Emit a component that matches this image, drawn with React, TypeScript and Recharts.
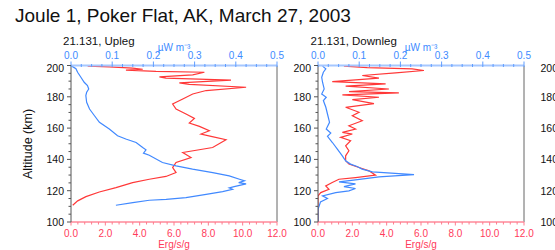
import React from "react";
import { LineChart, Line, XAxis, YAxis, ReferenceLine } from "recharts";

// altitude (km) vs. value
type Pt = { alt: number; v: number };

const title = "Joule 1, Poker Flat, AK, March 27, 2003";
const captions = ["21.131, Upleg", "21.131, Downleg"];
const altLabel = "Altitude (km)";

// µW m^-3 (top axis, blue)
const uplegPower: Pt[] = [
  { alt: 199.6, v: 0.002 }, { alt: 197.9, v: 0.012 }, { alt: 195.7, v: 0.016 },
  { alt: 192.5, v: 0.024 }, { alt: 189.3, v: 0.032 }, { alt: 187.2, v: 0.04 },
  { alt: 185.0, v: 0.043 }, { alt: 182.9, v: 0.038 }, { alt: 180.8, v: 0.036 },
  { alt: 176.5, v: 0.038 }, { alt: 172.2, v: 0.045 }, { alt: 167.9, v: 0.057 },
  { alt: 163.7, v: 0.069 }, { alt: 159.4, v: 0.093 }, { alt: 155.1, v: 0.113 },
  { alt: 153.0, v: 0.133 }, { alt: 150.8, v: 0.158 }, { alt: 147.6, v: 0.174 },
  { alt: 146.1, v: 0.182 }, { alt: 144.0, v: 0.176 }, { alt: 142.7, v: 0.19 },
  { alt: 138.0, v: 0.222 }, { alt: 135.9, v: 0.255 }, { alt: 133.8, v: 0.295 },
  { alt: 131.6, v: 0.344 }, { alt: 129.5, v: 0.384 }, { alt: 127.3, v: 0.409 },
  { alt: 126.3, v: 0.421 }, { alt: 125.2, v: 0.407 }, { alt: 124.4, v: 0.425 },
  { alt: 122.6, v: 0.396 }, { alt: 121.8, v: 0.384 }, { alt: 120.9, v: 0.392 },
  { alt: 119.4, v: 0.368 }, { alt: 117.7, v: 0.328 }, { alt: 115.6, v: 0.279 },
  { alt: 114.5, v: 0.231 }, { alt: 113.9, v: 0.19 }, { alt: 112.4, v: 0.15 },
  { alt: 110.7, v: 0.109 },
];

// Erg/s/g (bottom axis, red)
const uplegJoule: Pt[] = [
  { alt: 199.6, v: 0.97 }, { alt: 199.1, v: 2.23 }, { alt: 198.3, v: 3.59 },
  { alt: 197.6, v: 4.18 }, { alt: 197.0, v: 3.2 }, { alt: 196.2, v: 4.95 },
  { alt: 195.7, v: 7.77 }, { alt: 194.0, v: 7.09 }, { alt: 192.7, v: 5.15 },
  { alt: 191.9, v: 5.53 }, { alt: 190.6, v: 9.32 }, { alt: 188.9, v: 6.31 },
  { alt: 188.0, v: 6.89 }, { alt: 186.1, v: 10.2 }, { alt: 184.0, v: 7.87 },
  { alt: 181.8, v: 7.09 }, { alt: 178.6, v: 6.51 }, { alt: 175.4, v: 5.92 },
  { alt: 172.2, v: 6.12 }, { alt: 169.0, v: 6.7 }, { alt: 166.2, v: 7.19 },
  { alt: 163.2, v: 6.89 }, { alt: 161.1, v: 7.48 }, { alt: 158.3, v: 8.06 },
  { alt: 156.2, v: 7.57 }, { alt: 154.7, v: 8.16 }, { alt: 152.6, v: 9.03 },
  { alt: 147.6, v: 8.25 }, { alt: 144.4, v: 6.51 }, { alt: 141.2, v: 6.99 },
  { alt: 138.0, v: 6.12 }, { alt: 134.8, v: 5.92 }, { alt: 131.6, v: 6.12 },
  { alt: 129.1, v: 5.53 }, { alt: 127.3, v: 4.56 }, { alt: 125.2, v: 3.59 },
  { alt: 122.0, v: 2.62 }, { alt: 119.2, v: 1.65 }, { alt: 116.2, v: 0.87 },
  { alt: 113.5, v: 0.39 }, { alt: 110.7, v: 0.1 },
];

const downlegPower: Pt[] = [
  { alt: 199.6, v: 0.011 }, { alt: 197.9, v: 0.019 }, { alt: 195.7, v: 0.013 },
  { alt: 192.5, v: 0.009 }, { alt: 189.3, v: 0.011 }, { alt: 185.0, v: 0.015 },
  { alt: 181.8, v: 0.009 }, { alt: 179.7, v: 0.02 }, { alt: 177.6, v: 0.013 },
  { alt: 173.3, v: 0.019 }, { alt: 169.0, v: 0.023 }, { alt: 163.7, v: 0.028 },
  { alt: 159.4, v: 0.02 }, { alt: 156.8, v: 0.031 }, { alt: 154.7, v: 0.023 },
  { alt: 150.8, v: 0.035 }, { alt: 146.6, v: 0.047 }, { alt: 142.3, v: 0.059 },
  { alt: 139.1, v: 0.067 }, { alt: 137.0, v: 0.079 }, { alt: 135.5, v: 0.095 },
  { alt: 133.8, v: 0.107 }, { alt: 132.0, v: 0.132 }, { alt: 130.3, v: 0.233 },
  { alt: 128.8, v: 0.148 }, { alt: 126.9, v: 0.091 }, { alt: 125.6, v: 0.051 },
  { alt: 124.4, v: 0.091 }, { alt: 122.6, v: 0.063 }, { alt: 121.4, v: 0.091 },
  { alt: 119.9, v: 0.075 }, { alt: 118.8, v: 0.043 }, { alt: 116.7, v: 0.011 },
  { alt: 115.0, v: 0.023 }, { alt: 112.8, v: 0.006 }, { alt: 108.1, v: 0.0 },
  { alt: 100.0, v: 0.0 },
];

const downlegJoule: Pt[] = [
  { alt: 199.6, v: 1.51 }, { alt: 198.7, v: 2.87 }, { alt: 197.9, v: 5.49 },
  { alt: 196.8, v: 6.17 }, { alt: 195.3, v: 4.52 }, { alt: 193.6, v: 2.58 },
  { alt: 191.9, v: 3.55 }, { alt: 189.7, v: 0.83 }, { alt: 188.2, v: 3.94 },
  { alt: 186.8, v: 1.61 }, { alt: 185.0, v: 4.13 }, { alt: 183.3, v: 1.81 },
  { alt: 182.5, v: 4.71 }, { alt: 181.2, v: 1.42 }, { alt: 179.7, v: 3.55 },
  { alt: 178.2, v: 2.0 }, { alt: 175.6, v: 3.26 }, { alt: 173.3, v: 1.61 },
  { alt: 170.1, v: 2.39 }, { alt: 167.9, v: 2.0 }, { alt: 164.7, v: 2.58 },
  { alt: 161.5, v: 1.8 }, { alt: 159.4, v: 2.19 }, { alt: 157.3, v: 1.42 },
  { alt: 156.2, v: 2.0 }, { alt: 154.1, v: 1.32 }, { alt: 151.9, v: 1.9 },
  { alt: 148.7, v: 1.61 }, { alt: 145.5, v: 1.8 }, { alt: 142.3, v: 1.61 },
  { alt: 139.1, v: 1.61 }, { alt: 137.0, v: 1.8 }, { alt: 134.8, v: 2.39 },
  { alt: 132.7, v: 2.97 }, { alt: 129.9, v: 3.35 }, { alt: 128.4, v: 2.19 },
  { alt: 127.3, v: 1.22 }, { alt: 125.2, v: 0.83 }, { alt: 123.1, v: 0.45 },
  { alt: 120.9, v: 0.64 }, { alt: 118.8, v: 0.16 }, { alt: 116.7, v: 0.0 },
  { alt: 100.0, v: 0.0 },
];

const altTicks = [100, 105, 110, 115, 120, 125, 130, 135, 140, 145, 150, 155, 160, 165, 170, 175, 180, 185, 190, 195, 200];
const powerTicks = Array.from({ length: 21 }, (_, i) => +(i * 0.025).toFixed(3));
const ergTicks = Array.from({ length: 31 }, (_, i) => +(i * 0.4).toFixed(1));

const FONT = "'Liberation Sans', Arial, Helvetica, sans-serif";
const BLUE = "#3d8bff";
const RED = "#ff3a5a";

const isMult = (v: number, step: number) => Math.abs(v / step - Math.round(v / step)) < 1e-6;

const AltTick = (props: any) => {
  const { x, y, payload } = props;
  const major = isMult(payload.value, 20);
  return (
    <g>
      <line x1={x} x2={x - (major ? 4 : 2.5)} y1={y} y2={y} stroke="#555" />
      {major && (
        <text x={x - 7} y={y + (payload.value === 200 ? 6.5 : 4)} textAnchor="end" fontSize={10.5} fill="#111" fontFamily={FONT}>
          {payload.value}
        </text>
      )}
    </g>
  );
};

const PowerTick = (props: any) => {
  const { x, y, payload } = props;
  const major = isMult(payload.value, 0.1);
  return (
    <g>
      <line x1={x} x2={x} y1={y + 1.5} y2={y - (major ? 4 : 1.5)} stroke="#5f9dff" />
      {major && (
        <text x={x} y={y - 6.5} textAnchor="middle" fontSize={10} fill={BLUE} fontFamily={FONT}>
          {payload.value.toFixed(1)}
        </text>
      )}
    </g>
  );
};

const ErgTick = (props: any) => {
  const { x, y, payload } = props;
  const major = isMult(payload.value, 2);
  return (
    <g>
      <line x1={x} x2={x} y1={y} y2={y + (major ? 3.5 : 2.5)} stroke="#ff7b8d" />
      {major && (
        <text x={x} y={y + 14.5} textAnchor="middle" fontSize={10} fill={RED} fontFamily={FONT}>
          {payload.value.toFixed(1)}
        </text>
      )}
    </g>
  );
};

// the third panel is cut off by the frame: only its altitude labels show
const Panel = ({ left, power, joule, edge }: { left: number; power?: Pt[]; joule?: Pt[]; edge?: boolean }) => (
  <div style={{ position: "absolute", left, top: 0 }}>
    <LineChart layout="vertical" width={290} height={250} margin={{ top: 45.5, right: 13, bottom: 2, left: 31 }}>
      <XAxis
        xAxisId="pw"
        orientation="top"
        type="number"
        domain={[0, 0.5]}
        ticks={powerTicks}
        interval={0}
        height={20}
        tickSize={0}
        tickMargin={0}
        tickLine={false}
        tick={edge ? false : <PowerTick />}
        axisLine={{ stroke: "#a6c7ff", strokeWidth: 2 }}
        label={edge ? undefined : { value: "µW m⁻³", position: "top", offset: -5, fill: BLUE, fontSize: 10, fontFamily: FONT }}
        allowDataOverflow
      />
      <XAxis
        xAxisId="erg"
        orientation="bottom"
        type="number"
        domain={[0, 12]}
        ticks={ergTicks}
        interval={0}
        height={26}
        tickSize={0}
        tickMargin={0}
        tickLine={false}
        tick={edge ? false : <ErgTick />}
        axisLine={{ stroke: "#ff8a9a", strokeWidth: 1.5 }}
        label={edge ? undefined : { value: "Erg/s/g", position: "insideBottom", offset: 0.5, fill: RED, fontSize: 10, fontFamily: FONT }}
        allowDataOverflow
      />
      <YAxis
        type="number"
        dataKey="alt"
        domain={[100, 200]}
        reversed
        ticks={altTicks}
        interval={0}
        width={40}
        tickSize={0}
        tickMargin={0}
        tickLine={false}
        tick={<AltTick />}
        axisLine={{ stroke: "#555" }}
        allowDataOverflow
      />
      <ReferenceLine xAxisId="erg" x={12} stroke="#666" />
      {joule && (
        <Line data={joule} dataKey="v" xAxisId="erg" stroke="#ff3838" strokeWidth={1.2} dot={false} isAnimationActive={false} />
      )}
      {power && (
        <Line data={power} dataKey="v" xAxisId="pw" stroke="#4189ff" strokeWidth={1.2} dot={false} isAnimationActive={false} />
      )}
    </LineChart>
  </div>
);

const App = () => {
  return (
    <div style={{ position: "absolute", left: 0, top: 0, width: 555, height: 250, overflow: "hidden", background: "#fff" }}>
      <svg width={555} height={250} style={{ position: "absolute", left: 0, top: 0 }}>
        <text x={15} y={22} fontSize={19} fontFamily={FONT} fill="#111">{title}</text>
        <text x={63} y={45} fontSize={11.5} fontFamily={FONT} fill="#111">{captions[0]}</text>
        <text x={310.5} y={45} fontSize={11.5} fontFamily={FONT} fill="#111">{captions[1]}</text>
        <text transform="translate(32,144) rotate(-90)" textAnchor="middle" fontSize={12.5} fontFamily={FONT} fill="#111">
          {altLabel}
        </text>
      </svg>
      <Panel left={0} power={uplegPower} joule={uplegJoule} />
      <Panel left={247} power={downlegPower} joule={downlegJoule} />
      <Panel left={494} edge />
    </div>
  );
};

export default App;
